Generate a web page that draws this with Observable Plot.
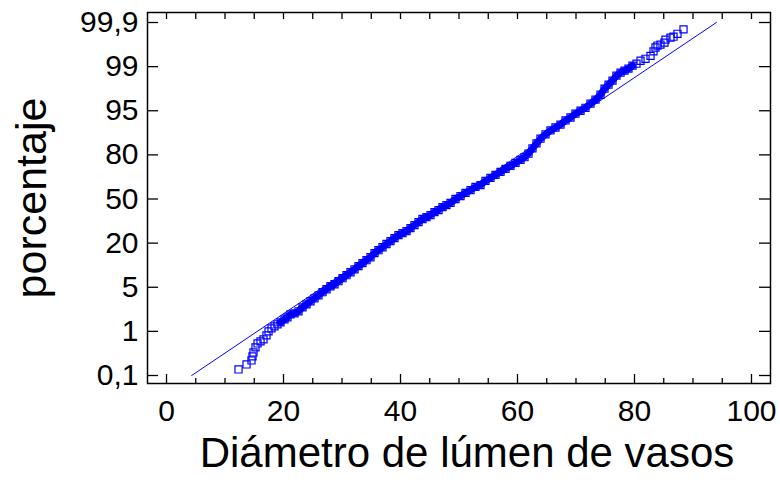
<!DOCTYPE html>
<html>
<head>
<meta charset="utf-8">
<script src="https://cdn.jsdelivr.net/npm/d3@7"></script>
<script src="https://cdn.jsdelivr.net/npm/@observablehq/plot@0.6"></script>
<style>
  html, body { margin: 0; padding: 0; background: #fff; }
  #chart svg { display: block; }
</style>
</head>
<body>
<div id="chart"></div>
<script>
// Diameter values (x)
const diam = [12.31, 13.68, 14.53, 14.70, 14.87, 15.21, 15.56, 16.07, 16.58, 17.09,
  17.44, 17.95, 18.46, 18.97, 19.49, 20.17, 20.68, 21.20, 21.88, 22.56,
  23.25, 23.93, 24.62, 25.30, 25.98, 26.67, 27.35, 28.03, 28.72, 29.40,
  30.09, 30.77, 31.45, 32.14, 32.82, 33.50, 34.19, 34.87, 35.56, 36.24,
  36.92, 37.61, 38.29, 38.97, 39.66, 40.34, 41.03, 41.71, 42.39, 43.08,
  43.76, 44.44, 45.13, 45.81, 46.50, 47.18, 47.86, 48.55, 49.40, 50.26,
  51.11, 51.97, 52.82, 53.68, 54.53, 55.38, 56.24, 57.09, 57.95, 58.80,
  59.66, 60.51, 61.20, 61.88, 62.56, 63.25, 63.93, 64.79, 65.64, 66.50,
  67.35, 68.21, 69.06, 69.91, 70.77, 71.62, 72.48, 73.33, 74.19, 74.87,
  75.56, 76.24, 76.92, 77.61, 78.29, 78.97, 79.66, 80.34, 81.03, 81.88,
  82.74, 83.25, 83.59, 83.93, 84.44, 85.13, 85.30, 86.15, 86.67, 87.35, 88.38];
// Cumulative percentage (y)
const pct = [0.223, 0.325, 0.407, 0.489, 0.570, 0.673, 0.754, 0.795, 0.836, 0.918,
  1.0, 1.27, 1.45, 1.64, 1.82, 2.09, 2.27, 2.55, 2.64, 2.82,
  3.18, 3.45, 3.73, 4.00, 4.27, 4.55, 4.82, 5.34, 6.02, 7.05,
  8.07, 9.09, 10.1, 11.1, 12.2, 13.2, 14.2, 15.2, 16.6, 17.6,
  18.6, 19.7, 21.4, 23.4, 25.5, 26.8, 28.2, 30.2, 32.3, 34.3,
  36.4, 37.7, 39.1, 41.1, 42.5, 44.5, 45.9, 47.3, 50.0, 52.0,
  54.1, 56.1, 58.2, 59.5, 62.3, 64.3, 66.4, 68.4, 70.5, 72.5,
  74.5, 76.6, 78.4, 80.4, 82.2, 83.9, 85.5, 87.0, 88.3, 89.3,
  90.3, 91.7, 92.7, 94.0, 95.0, 95.27, 95.64, 96.0, 96.45, 97.0,
  97.36, 97.73, 98.18, 98.45, 98.64, 98.82, 99.02, 99.06, 99.12, 99.16,
  99.22, 99.31, 99.39, 99.43, 99.45, 99.49, 99.55, 99.59, 99.61, 99.67, 99.76];
// Fitted reference line end points
const fitX = [4.3, 94.0];
const fitY = [0.1, 99.9];
// Tick labels
const yTicks = [0.1, 1, 5, 20, 50, 80, 95, 99, 99.9];
const xMajor = [0, 20, 40, 60, 80, 100];
const xMinor = [5, 10, 15, 25, 30, 35, 45, 50, 55, 65, 70, 75, 85, 90, 95];
const xTitle = "Diámetro de lúmen de vasos";
const yTitle = "porcentaje";

const points = diam.map((d, i) => ({x: d, y: pct[i]}));
const band = points.slice(14, 97);
const fit = fitX.map((d, i) => ({x: d, y: fitY[i]}));

const W = 780, H = 485;
const mL = 147, mR = 10, mT = 12, mB = 102;
const pw = W - mL - mR, ph = H - mT - mB;
const yTop = 22, yBot = 375;
const yRange = yTicks.map((_, i) => yBot - i * (yBot - yTop) / (yTicks.length - 1));
const blue = "#0000ff";
const font = "Liberation Sans, Arial, sans-serif";
const fmt = d => String(d).replace(".", ",");

const chart = Plot.plot({
  width: W, height: H,
  marginLeft: mL, marginRight: mR, marginTop: mT, marginBottom: mB,
  style: {fontFamily: font, background: "#fff"},
  x: {domain: [-3.25, 103.25]},
  y: {type: "linear", domain: yTicks, range: yRange},
  marks: [
    // inward tick marks
    Plot.ruleX(xMajor, {x: d => d, insetTop: ph - 9, stroke: "#000", strokeWidth: 1.3}),
    Plot.ruleX(xMinor, {x: d => d, insetTop: ph - 5, stroke: "#000", strokeWidth: 1.3}),
    Plot.ruleX(xMajor.concat(xMinor), {x: d => d, insetBottom: ph - 7, stroke: "#000", strokeWidth: 1.3}),
    Plot.ruleY(yTicks, {y: d => d, insetRight: pw - 11, stroke: "#000", strokeWidth: 1.3}),
    Plot.ruleY(yTicks, {y: d => d, insetLeft: pw - 11, stroke: "#000", strokeWidth: 1.3}),
    // tick labels
    Plot.axisX(xMajor, {tickSize: 0, tickPadding: 16, fontSize: 30, label: null}),
    Plot.axisY(yTicks, {tickSize: 0, tickPadding: 9, fontSize: 30, tickFormat: fmt, label: null}),
    // fitted line
    Plot.line(fit, {x: "x", y: "y", stroke: blue, strokeWidth: 1}),
    // dense overlap of many points
    Plot.line(band, {x: "x", y: "y", stroke: blue, strokeWidth: 7, curve: "linear"}),
    Plot.dot(points, {x: "x", y: "y", symbol: "square", r: 4, stroke: blue, strokeWidth: 1.2, fill: "none"}),
    Plot.frame({stroke: "#000", strokeWidth: 1.5}),
    // axis titles
    Plot.text([xTitle], {frameAnchor: "bottom", textAnchor: "middle", lineAnchor: "bottom", dx: 8, dy: 83, fontSize: 42, fill: "#000"}),
    Plot.text([yTitle], {frameAnchor: "left", textAnchor: "middle", lineAnchor: "bottom", rotate: -90, dx: -102, fontSize: 43, fill: "#000"})
  ]
});
document.getElementById("chart").appendChild(chart);
</script>
</body>
</html>
